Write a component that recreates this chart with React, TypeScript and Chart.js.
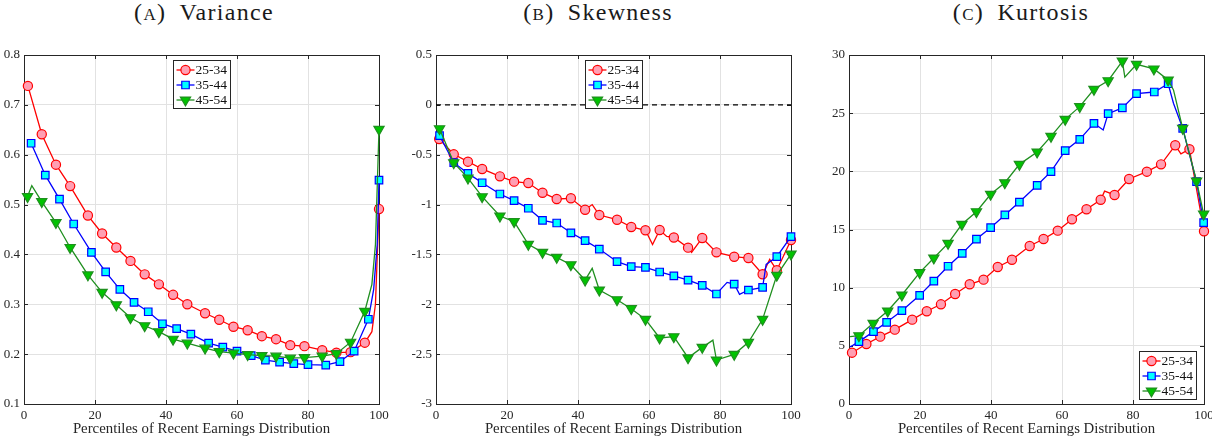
import React, { useEffect, useRef } from "react";
import { Chart, registerables } from "chart.js";

Chart.register(...registerables);

// ---------- DATA ----------
const SERIES_LABELS = ["25-34", "35-44", "45-54"];
const X_TICKS = [0, 20, 40, 60, 80, 100];

// Variance
const var25X = [1.1, 5, 9, 13, 18, 22, 26, 30, 34, 38, 42, 46, 51, 55, 59, 63, 67, 71, 75, 79, 84, 88, 92, 96, 98, 99, 100];
const var25Y = [0.738, 0.641, 0.58, 0.537, 0.478, 0.442, 0.414, 0.387, 0.36, 0.34, 0.319, 0.3, 0.282, 0.269, 0.255, 0.248, 0.236, 0.23, 0.218, 0.216, 0.208, 0.203, 0.204, 0.223, 0.245, 0.3, 0.491];
const var25M = [1, 1, 1, 1, 1, 1, 1, 1, 1, 1, 1, 1, 1, 1, 1, 1, 1, 1, 1, 1, 1, 1, 1, 1, 0, 0, 1];
const var35X = [2, 6, 10, 14, 19, 23, 27, 31, 35, 39, 43, 47, 52, 56, 60, 64, 68, 72, 76, 80, 85, 89, 93, 97, 98.5, 99.5, 100];
const var35Y = [0.623, 0.559, 0.511, 0.461, 0.404, 0.365, 0.33, 0.304, 0.285, 0.261, 0.251, 0.24, 0.222, 0.214, 0.206, 0.197, 0.188, 0.184, 0.181, 0.179, 0.178, 0.185, 0.206, 0.27, 0.33, 0.42, 0.549];
const var35M = [1, 1, 1, 1, 1, 1, 1, 1, 1, 1, 1, 1, 1, 1, 1, 1, 1, 1, 1, 1, 1, 1, 1, 1, 0, 0, 1];
const var45X = [1, 2.2, 5, 9, 13, 18, 22, 26, 30, 34, 38, 42, 46, 51, 55, 59, 63, 67, 71, 75, 79, 84, 88, 92, 96, 98, 99, 100];
const var45Y = [0.516, 0.538, 0.506, 0.464, 0.414, 0.359, 0.324, 0.299, 0.273, 0.257, 0.245, 0.23, 0.222, 0.212, 0.205, 0.202, 0.199, 0.197, 0.196, 0.192, 0.193, 0.196, 0.201, 0.224, 0.286, 0.34, 0.42, 0.651];
const var45M = [1, 0, 1, 1, 1, 1, 1, 1, 1, 1, 1, 1, 1, 1, 1, 1, 1, 1, 1, 1, 1, 1, 1, 1, 1, 0, 0, 1];
const varTicks = [0.1, 0.2, 0.3, 0.4, 0.5, 0.6, 0.7, 0.8];

// Skewness
const sk25X = [0.9, 5, 9, 13, 18, 22, 26, 30, 34, 38, 42, 44, 46, 51, 55, 59, 61, 63, 65, 67, 71, 72, 75, 79, 84, 88, 92, 94, 96, 100];
const sk25Y = [-0.342, -0.496, -0.57, -0.643, -0.717, -0.77, -0.784, -0.881, -0.944, -0.937, -1.052, -1.0, -1.105, -1.152, -1.225, -1.258, -1.4, -1.255, -1.32, -1.33, -1.432, -1.48, -1.335, -1.479, -1.523, -1.536, -1.699, -1.55, -1.659, -1.355];
const sk25M = [1, 1, 1, 1, 1, 1, 1, 1, 1, 1, 1, 0, 1, 1, 1, 1, 0, 1, 0, 1, 1, 0, 1, 1, 1, 1, 1, 0, 1, 1];
const sk35X = [1, 5, 9, 13, 18, 22, 26, 30, 34, 38, 42, 46, 51, 55, 59, 63, 67, 71, 75, 79, 82, 84, 85.5, 88, 92, 93, 96, 100];
const sk35Y = [-0.309, -0.58, -0.687, -0.781, -0.894, -0.961, -1.037, -1.158, -1.185, -1.283, -1.362, -1.446, -1.573, -1.623, -1.629, -1.676, -1.716, -1.757, -1.81, -1.897, -1.78, -1.797, -1.9, -1.857, -1.83, -1.6, -1.523, -1.322];
const sk35M = [1, 1, 1, 1, 1, 1, 1, 1, 1, 1, 1, 1, 1, 1, 1, 1, 1, 1, 1, 1, 0, 1, 0, 1, 1, 0, 1, 1];
const sk45X = [1, 5, 9, 13, 18, 22, 26, 30, 34, 38, 42, 44, 46, 51, 55, 59, 63, 67, 71, 75, 78, 79, 84, 88, 92, 96, 100];
const sk45Y = [-0.239, -0.58, -0.734, -0.921, -1.115, -1.171, -1.399, -1.479, -1.529, -1.603, -1.757, -1.64, -1.857, -1.954, -2.044, -2.151, -2.338, -2.325, -2.536, -2.432, -2.36, -2.559, -2.502, -2.381, -2.151, -1.709, -1.496];
const sk45M = [1, 1, 1, 1, 1, 1, 1, 1, 1, 1, 1, 0, 1, 1, 1, 1, 1, 1, 1, 1, 0, 1, 1, 1, 1, 1, 1];
const zeroX = [0, 100];
const zeroY = [0, 0];
const skTicks = [-3, -2.5, -2, -1.5, -1, -0.5, 0, 0.5];

// Kurtosis
const ku25X = [0.85, 4.9, 8.8, 12.9, 17.8, 21.9, 25.9, 29.9, 34, 37.9, 41.9, 45.9, 50.9, 54.8, 58.8, 62.8, 66.9, 70.9, 72, 74.8, 78.9, 83.9, 87.9, 91.9, 93.5, 95.9, 100];
const ku25Y = [4.41, 5.16, 5.79, 6.39, 7.25, 7.97, 8.57, 9.46, 10.29, 10.69, 11.78, 12.4, 13.58, 14.18, 14.9, 15.88, 16.74, 17.56, 18.3, 17.97, 19.34, 19.97, 20.6, 22.24, 21.5, 21.9, 14.85];
const ku25M = [1, 1, 1, 1, 1, 1, 1, 1, 1, 1, 1, 1, 1, 1, 1, 1, 1, 1, 0, 1, 1, 1, 1, 1, 0, 1, 1];
const ku35X = [0.3, 2.8, 6.9, 10.6, 14.9, 19.9, 23.9, 27.9, 31.9, 35.9, 39.9, 43.9, 48, 53, 56.9, 60.9, 65, 69, 71.6, 73, 77, 81, 86, 89.9, 91.4, 94, 97.9, 99.9];
const ku35Y = [4.9, 5.36, 6.22, 7.02, 8.02, 9.34, 10.57, 11.84, 12.95, 14.18, 15.16, 16.25, 17.36, 18.8, 19.97, 21.78, 22.75, 24.13, 23.55, 24.96, 25.45, 26.68, 26.82, 27.53, 25.85, 23.7, 19.11, 15.59];
const ku35M = [0, 1, 1, 1, 1, 1, 1, 1, 1, 1, 1, 1, 1, 1, 1, 1, 1, 1, 0, 1, 1, 1, 1, 1, 0, 1, 1, 1];
const ku45X = [0.3, 2.8, 6.8, 10.9, 14.9, 19.9, 23.9, 27.9, 31.8, 35.9, 39.9, 43.9, 48, 53, 56.9, 60.9, 65, 69, 73, 77, 77.7, 81, 85.9, 89.9, 91.4, 94, 97.9, 99.9];
const ku45Y = [5.8, 5.87, 6.94, 7.99, 9.37, 11.29, 12.55, 13.81, 15.45, 16.53, 18.03, 19.02, 20.6, 21.66, 23.01, 24.47, 25.56, 27.05, 27.79, 29.48, 28.1, 29.2, 28.8, 27.85, 27.0, 23.7, 19.17, 16.33];
const ku45M = [0, 1, 1, 1, 1, 1, 1, 1, 1, 1, 1, 1, 1, 1, 1, 1, 1, 1, 1, 1, 0, 1, 1, 1, 0, 1, 1, 1];
const kuTicks = [0, 5, 10, 15, 20, 25, 30];

// ---------- STYLE ----------
const FONT = "'Liberation Serif', 'Times New Roman', serif";
const AXIS_COLOR = "#262626";
const GRID_COLOR = "#e2e2e2";
const STYLES = [
  { line: "#ff0000", fill: "#ff9fb3", shape: "circle", r: 4.6, rot: 0 },
  { line: "#0000ff", fill: "#00ffff", shape: "rect", r: 5.3, rot: 0 },
  { line: "#1f8f1f", fill: "#00c400", shape: "triangle", r: 5.9, rot: 180 },
];

const pts = (xs: number[], ys: number[]) => xs.map((x, i) => ({ x, y: ys[i] }));

function seriesDataset(idx: number, xs: number[], ys: number[], flags: number[]) {
  const s = STYLES[idx];
  return {
    label: SERIES_LABELS[idx],
    data: pts(xs, ys),
    borderColor: s.line,
    borderWidth: 1.3,
    pointStyle: s.shape,
    pointRotation: s.rot,
    pointRadius: flags.map((f) => (f ? s.r : 0)),
    pointBackgroundColor: s.fill,
    pointBorderColor: s.line,
    pointBorderWidth: 1.2,
    tension: 0,
    clip: false,
    order: 2 - idx,
  };
}

function drawMarker(ctx: CanvasRenderingContext2D, idx: number, cx: number, cy: number) {
  const s = STYLES[idx];
  ctx.save();
  ctx.fillStyle = s.fill;
  ctx.strokeStyle = s.line;
  ctx.lineWidth = 1.2;
  ctx.beginPath();
  if (s.shape === "circle") {
    ctx.arc(cx, cy, s.r, 0, Math.PI * 2);
  } else if (s.shape === "rect") {
    const h = s.r * Math.SQRT1_2;
    ctx.rect(cx - h, cy - h, 2 * h, 2 * h);
  } else {
    const r = s.r;
    ctx.moveTo(cx, cy + r);
    ctx.lineTo(cx - r * Math.sin(Math.PI / 3), cy - r / 2);
    ctx.lineTo(cx + r * Math.sin(Math.PI / 3), cy - r / 2);
    ctx.closePath();
  }
  ctx.fill();
  ctx.stroke();
  ctx.restore();
}

const boxPlugin = {
  id: "boxTicks",
  beforeDatasetsDraw(chart: any) {
    const { ctx, chartArea: a, scales } = chart;
    ctx.save();
    ctx.strokeStyle = AXIS_COLOR;
    ctx.lineWidth = 1;
    const L = 4;
    ctx.beginPath();
    scales.y.ticks.forEach((t: any) => {
      const y = Math.round(scales.y.getPixelForValue(t.value)) + 0.5;
      ctx.moveTo(a.left, y);
      ctx.lineTo(a.left + L, y);
      ctx.moveTo(a.right, y);
      ctx.lineTo(a.right - L, y);
    });
    scales.x.ticks.forEach((t: any) => {
      const x = Math.round(scales.x.getPixelForValue(t.value)) + 0.5;
      ctx.moveTo(x, a.bottom);
      ctx.lineTo(x, a.bottom - L);
      ctx.moveTo(x, a.top);
      ctx.lineTo(x, a.top + L);
    });
    ctx.stroke();
    ctx.strokeRect(Math.round(a.left) + 0.5, Math.round(a.top) + 0.5, Math.round(a.right - a.left), Math.round(a.bottom - a.top));
    ctx.restore();
  },
};

const legendPlugin = {
  id: "boxLegend",
  afterDraw(chart: any, _args: any, opts: any) {
    const { ctx, chartArea: a } = chart;
    const w = 57;
    const h = 48;
    let x: number, y: number;
    if (opts.pos === "north") {
      x = Math.round((a.left + a.right) / 2 - w / 2) + 0.5;
      y = Math.round(a.top + 5) + 0.5;
    } else {
      x = Math.round(a.right - 8 - w) + 0.5;
      y = Math.round(a.bottom - 5 - h) + 0.5;
    }
    ctx.save();
    ctx.fillStyle = "#ffffff";
    ctx.fillRect(x, y, w, h);
    ctx.strokeStyle = AXIS_COLOR;
    ctx.lineWidth = 1;
    ctx.strokeRect(x, y, w, h);
    ctx.font = `13.5px ${FONT}`;
    ctx.textBaseline = "middle";
    ctx.textAlign = "left";
    SERIES_LABELS.forEach((lab, i) => {
      const cy = y + 9.5 + i * 15;
      ctx.strokeStyle = STYLES[i].line;
      ctx.lineWidth = 1.3;
      ctx.beginPath();
      ctx.moveTo(x + 3, cy);
      ctx.lineTo(x + 21, cy);
      ctx.stroke();
      drawMarker(ctx, i, x + 12, cy);
      ctx.fillStyle = "#111111";
      ctx.fillText(lab, x + 22, cy + 0.5);
    });
    ctx.restore();
  },
};

type PanelProps = {
  datasets: any[];
  yTicks: number[];
  yWidth: number;
  padRight: number;
  width: number;
  legendPos: string;
};

function Panel({ datasets, yTicks, yWidth, padRight, width, legendPos }: PanelProps) {
  const ref = useRef<HTMLCanvasElement | null>(null);
  useEffect(() => {
    if (!ref.current) return;
    const tickFont = { family: FONT, size: 13 };
    const chart = new Chart(ref.current, {
      type: "line",
      data: { datasets },
      options: {
        animation: false,
        responsive: false,
        devicePixelRatio: 1,
        events: [],
        layout: { padding: { top: 55, right: padRight, left: 0, bottom: 0 } },
        plugins: {
          legend: { display: false },
          tooltip: { enabled: false },
          boxLegend: { pos: legendPos },
        } as any,
        scales: {
          x: {
            type: "linear",
            min: 0,
            max: 100,
            afterBuildTicks: (s: any) => {
              s.ticks = X_TICKS.map((v) => ({ value: v }));
            },
            ticks: { font: tickFont, color: AXIS_COLOR, padding: 4, maxRotation: 0, autoSkip: false, callback: (v: any) => String(v) },
            grid: { color: GRID_COLOR, drawTicks: false, lineWidth: 1 },
            border: { display: false },
            title: {
              display: true,
              text: "Percentiles of Recent Earnings Distribution",
              font: { family: FONT, size: 14.8 },
              color: AXIS_COLOR,
              padding: { top: 0, bottom: 3 },
            },
            afterFit: (s: any) => {
              s.height = 37;
              s.paddingLeft = 0;
              s.paddingRight = 0;
            },
          },
          y: {
            type: "linear",
            min: yTicks[0],
            max: yTicks[yTicks.length - 1],
            afterBuildTicks: (s: any) => {
              s.ticks = yTicks.map((v) => ({ value: v }));
            },
            ticks: {
              font: tickFont,
              color: AXIS_COLOR,
              padding: 4,
              autoSkip: false,
              callback: (v: any) => String(Math.round(Number(v) * 10) / 10),
            },
            grid: { color: GRID_COLOR, drawTicks: false, lineWidth: 1 },
            border: { display: false },
            afterFit: (s: any) => {
              s.width = yWidth;
              s.paddingTop = 0;
              s.paddingBottom = 0;
            },
          },
        },
      } as any,
      plugins: [boxPlugin, legendPlugin],
    });
    return () => chart.destroy();
  }, []);
  return <canvas ref={ref} width={width} height={441} style={{ width, height: 441, display: "block" }} />;
}

function Title({ center, letter, text }: { center: number; letter: string; text: string }) {
  return (
    <div
      style={{
        position: "absolute",
        left: center - 150,
        width: 300,
        top: -1,
        height: 26,
        lineHeight: "26px",
        textAlign: "center",
        fontFamily: FONT,
        fontSize: 24,
        letterSpacing: "1.3px",
        color: "#1a1a1a",
        whiteSpace: "nowrap",
      }}
    >
      <span style={{ fontVariant: "small-caps" }}>({letter})</span>
      {"\u2002"}
      {text}
    </div>
  );
}

export default function App() {
  const varSets = [
    seriesDataset(0, var25X, var25Y, var25M),
    seriesDataset(1, var35X, var35Y, var35M),
    seriesDataset(2, var45X, var45Y, var45M),
  ];
  const skSets = [
    {
      label: "zero",
      data: pts(zeroX, zeroY),
      borderColor: "#000000",
      borderWidth: 1.1,
      borderDash: [5, 4],
      pointRadius: 0,
      order: 5,
    },
    seriesDataset(0, sk25X, sk25Y, sk25M),
    seriesDataset(1, sk35X, sk35Y, sk35M),
    seriesDataset(2, sk45X, sk45Y, sk45M),
  ];
  const kuSets = [
    seriesDataset(0, ku25X, ku25Y, ku25M),
    seriesDataset(1, ku35X, ku35Y, ku35M),
    seriesDataset(2, ku45X, ku45Y, ku45M),
  ];
  return (
    <div style={{ position: "fixed", left: 0, top: 0, width: 1212, height: 441, background: "#ffffff", overflow: "hidden" }}>
      <Title center={204} letter="a" text="Variance" />
      <Title center={598} letter="b" text="Skewness" />
      <Title center={1021} letter="c" text="Kurtosis" />
      <div style={{ position: "absolute", left: 0, top: 0 }}>
        <Panel datasets={varSets} yTicks={varTicks} yWidth={24} padRight={21} width={400} legendPos="north" />
      </div>
      <div style={{ position: "absolute", left: 400, top: 0 }}>
        <Panel datasets={skSets} yTicks={skTicks} yWidth={36} padRight={19} width={410} legendPos="north" />
      </div>
      <div style={{ position: "absolute", left: 810, top: 0 }}>
        <Panel datasets={kuSets} yTicks={kuTicks} yWidth={39} padRight={8} width={402} legendPos="southeast" />
      </div>
    </div>
  );
}
